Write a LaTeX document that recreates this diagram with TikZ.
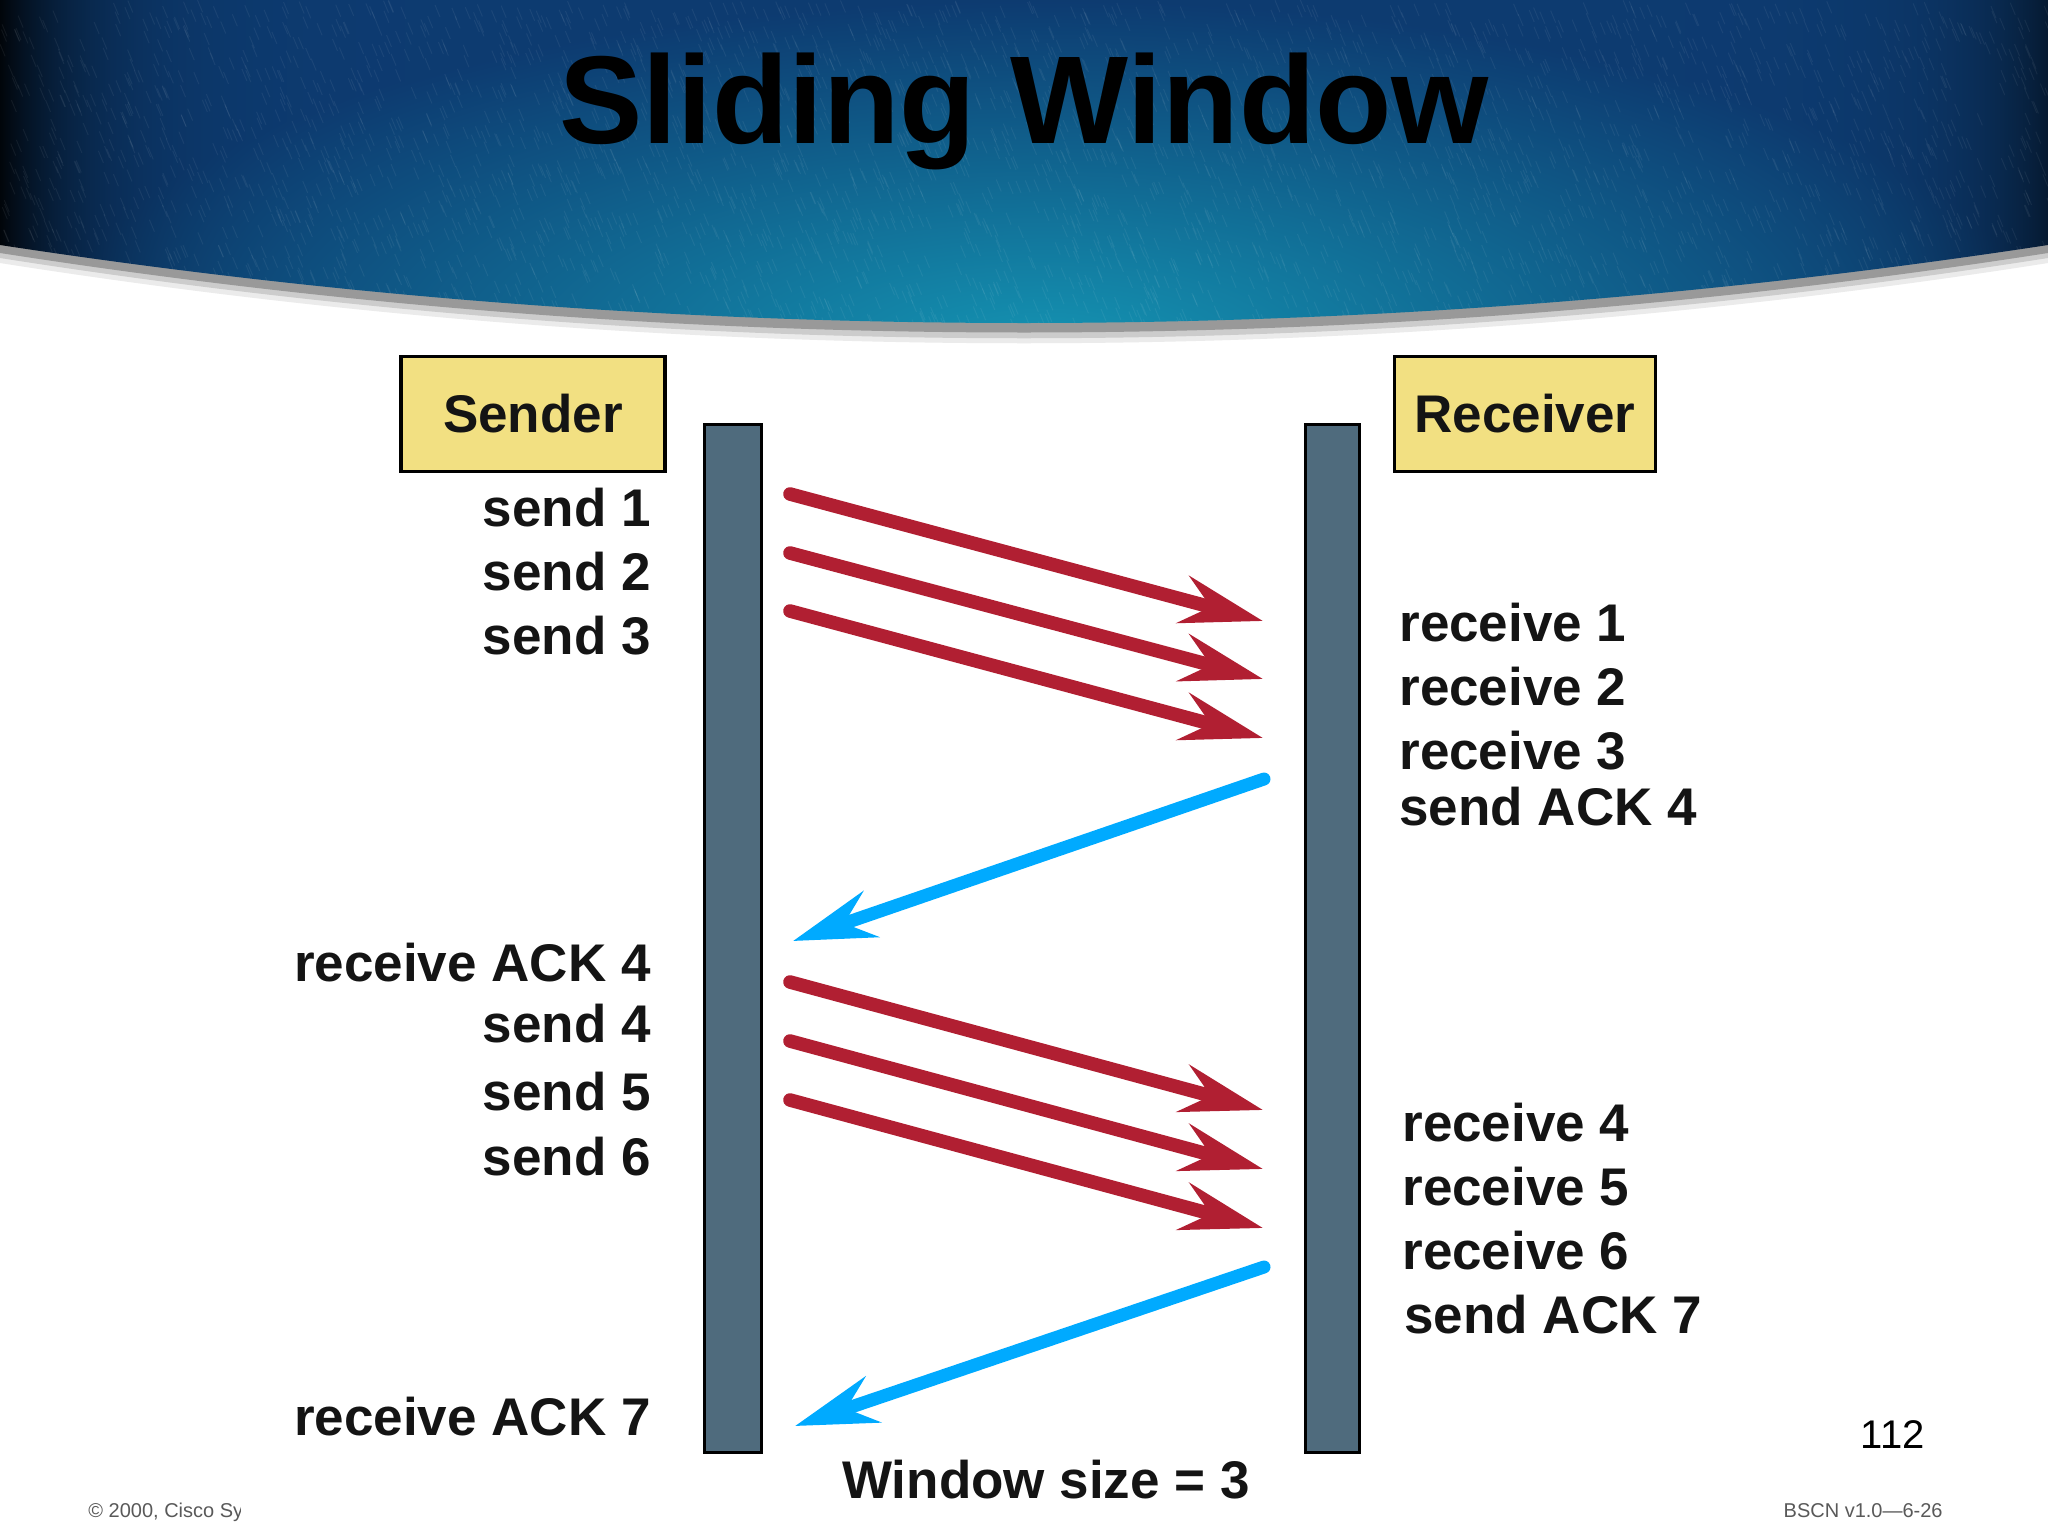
\documentclass[tikz,border=0pt]{standalone}
\usepackage{fontspec}
\setmainfont{Liberation Sans}
\usetikzlibrary{arrows.meta}
\definecolor{boxfill}{HTML}{F2E082}
\definecolor{barfill}{HTML}{4F6B7D}
\definecolor{redarrow}{HTML}{B11F32}
\definecolor{bluearrow}{HTML}{00AAFF}
\pgfdeclarefunctionalshading{hdrshade}{\pgfpointorigin}{\pgfpoint{100bp}{100bp}}{}{
  25 sub 50 div dup mul
  exch 50.5 sub 25 div dup mul
  dup 6 exp 0.72 mul 1 exch sub
  3 1 roll
  1.05 mul add sqrt
  dup 1 gt {pop 1} if
  2 copy -0.03 mul 0.08 add mul
  3 1 roll
  2 copy -0.35 mul 0.58 add mul
  3 1 roll
  -0.26 mul 0.70 add mul
}
\tikzset{
  x=0.5pt,y=-0.5pt,
  titletext/.style={inner sep=0pt,anchor=base,font=\fontsize{62.5}{70}\selectfont\bfseries,text=black},
  lbl/.style={inner sep=0pt,font=\fontsize{26.5}{30}\selectfont\bfseries,text=black!92},
  lblr/.style={lbl,anchor=base east},
  lbll/.style={lbl,anchor=base west},
  headbox/.style={draw=black,line width=1.6pt,fill=boxfill,minimum height=57.5pt,inner sep=0pt,font=\fontsize{26.5}{30}\selectfont\bfseries,text=black!92},
  lifebar/.style={draw=black,line width=1.5pt,fill=barfill,minimum height=514pt,inner sep=0pt},
  foot/.style={inner sep=0pt,font=\fontsize{10}{12}\selectfont,text=black!65},
  data/.style={draw=redarrow,line width=6.8pt,line cap=round,-{Stealth[length=41pt,width=24pt,inset=14pt]}},
  ack/.style={draw=bluearrow,line width=6.5pt,line cap=round,-{Stealth[length=41pt,width=24pt,inset=14pt]}},
}
\begin{document}
\begin{tikzpicture}
\useasboundingbox (0,0) rectangle (2048,1536);
\fill[white] (0,0) rectangle (2048,1536);
% header shadow
\fill[black!8] (0,0) -- (0,263) .. controls (680,370) and (1368,370) .. (2048,263) -- (2048,0) -- cycle;
\fill[black!20] (0,0) -- (0,258) .. controls (680,365) and (1368,365) .. (2048,258) -- (2048,0) -- cycle;
\fill[black!40] (0,0) -- (0,253) .. controls (680,359) and (1368,359) .. (2048,253) -- (2048,0) -- cycle;
% header
\shade[shading=hdrshade] (0,0) -- (0,245) .. controls (680,349) and (1368,349) .. (2048,245) -- (2048,0) -- cycle;
\begin{scope}
\clip (0,0) -- (0,245) .. controls (680,349) and (1368,349) .. (2048,245) -- (2048,0) -- cycle;
\pgfmathsetseed{7}
\foreach \i in {1,...,3600}{
  \pgfmathsetmacro{\px}{rnd*2048}
  \pgfmathsetmacro{\py}{rnd*340}
  \draw[white,opacity=0.06,line width=0.5pt] (\px,\py) -- ++(5,12);
}
\end{scope}
\node[titletext] (title) at (1024,143) {Sliding Window};
% boxes and bars
\node[headbox,minimum width=132pt] (sender) at (533,414) {Sender};
\node[headbox,minimum width=130.5pt] (receiver) at (1525,414) {Receiver};
\node[lifebar,minimum width=28.5pt] (sbar) at (733,938) {};
\node[lifebar,minimum width=27pt] (rbar) at (1332,938) {};
% sender labels
\node[lblr] (s1) at (651,526) {send 1};
\node[lblr] (s2) at (651,590) {send 2};
\node[lblr] (s3) at (651,654) {send 3};
\node[lblr] (ra4) at (651,981) {receive ACK 4};
\node[lblr] (s4) at (651,1042) {send 4};
\node[lblr] (s5) at (651,1110) {send 5};
\node[lblr] (s6) at (651,1175) {send 6};
\node[lblr] (ra7) at (651,1435) {receive ACK 7};
% receiver labels
\node[lbll] (r1) at (1399,641) {receive 1};
\node[lbll] (r2) at (1399,705) {receive 2};
\node[lbll] (r3) at (1399,769) {receive 3};
\node[lbll] (sa4) at (1399,825) {send ACK 4};
\node[lbll] (r4) at (1402,1141) {receive 4};
\node[lbll] (r5) at (1402,1205) {receive 5};
\node[lbll] (r6) at (1402,1269) {receive 6};
\node[lbll] (sa7) at (1404,1333) {send ACK 7};
\node[lbl,anchor=base] (win) at (1046,1498) {Window size = 3};
\node[inner sep=0pt,anchor=base east,font=\fontsize{20}{24}\selectfont] (pg) at (1925,1448) {112};
\begin{scope}
\clip (0,1480) rectangle (240,1536);
\node[foot,anchor=base west] (copy) at (88,1517) {© 2000, Cisco Systems, Inc.};
\end{scope}
\node[foot,anchor=base east] (ver) at (1943,1517) {BSCN v1.0—6-26};
% arrow ends
\coordinate (a1) at (790,494); \coordinate (b1) at (1263,621);
\coordinate (a2) at (790,553); \coordinate (b2) at (1263,679);
\coordinate (a3) at (790,611); \coordinate (b3) at (1263,738);
\coordinate (c1) at (1264,779); \coordinate (d1) at (793,941);
\coordinate (a4) at (790,982); \coordinate (b4) at (1263,1110);
\coordinate (a5) at (790,1041); \coordinate (b5) at (1263,1169);
\coordinate (a6) at (790,1100); \coordinate (b6) at (1263,1228);
\coordinate (c2) at (1264,1267); \coordinate (d2) at (795,1426);
\draw[data] (a1) -- (b1);
\draw[data] (a2) -- (b2);
\draw[data] (a3) -- (b3);
\draw[ack] (c1) -- (d1);
\draw[data] (a4) -- (b4);
\draw[data] (a5) -- (b5);
\draw[data] (a6) -- (b6);
\draw[ack] (c2) -- (d2);
\end{tikzpicture}
\end{document}
